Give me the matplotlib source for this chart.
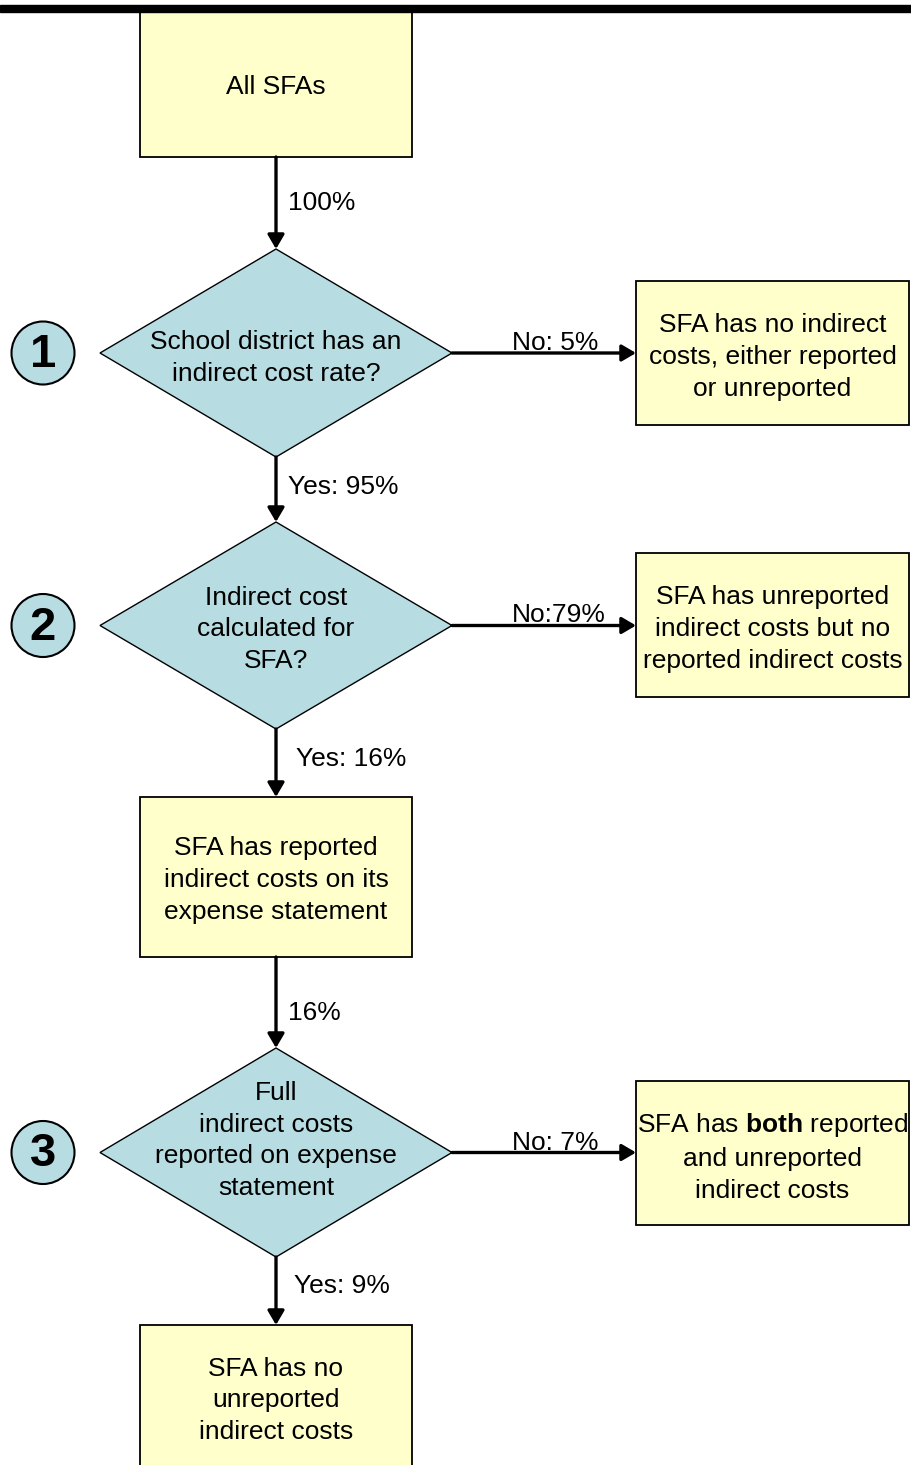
import matplotlib.pyplot as plt
from matplotlib.patches import Rectangle, Polygon, Circle

plt.rcParams['font.family'] = ['Liberation Sans', 'DejaVu Sans']
plt.rcParams['mathtext.fontset'] = 'custom'
plt.rcParams['mathtext.rm'] = 'Liberation Sans'
plt.rcParams['mathtext.bf'] = 'Liberation Sans:bold'

# flow content
main_boxes = ["All SFAs",
              "SFA has reported\nindirect costs on its\nexpense statement",
              "SFA has no\nunreported\nindirect costs"]
questions = ["School district has an\nindirect cost rate?",
             "Indirect cost\ncalculated for\nSFA?",
             "Full\nindirect costs\nreported on expense\nstatement"]
step_numbers = ["1", "2", "3"]
no_outcomes = ["SFA has no indirect\ncosts, either reported\nor unreported",
               "SFA has unreported\nindirect costs but no\nreported indirect costs",
               "SFA has $\\mathbf{both}$ reported\nand unreported\nindirect costs"]
no_labels = ["No: 5%", "No:79%", "No: 7%"]
down_labels = ["100%", "Yes: 95%", "Yes: 16%", "16%", "Yes: 9%"]

YELLOW = '#ffffcc'
BLUE = '#b7dde3'
FS = 19
LS = 1.4
TY = 3  # small downward nudge for text baselines

fig = plt.figure(figsize=(9.12, 14.65), dpi=100)
ax = fig.add_axes([0, 0, 1, 1])
ax.set_xlim(0, 912)
ax.set_ylim(1465, 0)
ax.axis('off')

# heavy rule at top
ax.add_patch(Rectangle((0, 5), 912, 7, color='black', zorder=5))

cx = 276
box_w = 272


def box(x, y, w, h, text, dy=0):
    ax.add_patch(Rectangle((x, y), w, h, facecolor=YELLOW, edgecolor='black', lw=1.3, zorder=2))
    ax.text(x + w / 2, y + h / 2 + dy + TY, text, ha='center', va='center', fontsize=FS,
            linespacing=LS, zorder=3)


def arrow(x0, y0, x1, y1):
    ax.annotate('', xy=(x1, y1), xytext=(x0, y0),
                arrowprops=dict(arrowstyle='-|>,head_length=0.85,head_width=0.5',
                                color='black', lw=2.4, shrinkA=0, shrinkB=0),
                zorder=4)


# main column boxes (top, bottom)
main_y = [(12, 157), (797, 957), (1325, 1470)]
for (y0, y1), t in zip(main_y, main_boxes):
    box(cx - box_w / 2, y0, box_w, y1 - y0, t)

# decisions
dia = [(249, 457), (522, 729), (1048, 1257)]
text_dy = [2, 1, -15]
right_box = [(281, 425), (553, 697), (1081, 1225)]
for i, (top, bot) in enumerate(dia):
    cy = (top + bot) / 2
    ax.add_patch(Polygon([(cx, top), (452, cy), (cx, bot), (100, cy)],
                         closed=True, facecolor=BLUE, edgecolor='black', lw=1.0, zorder=2))
    ax.text(cx, cy + text_dy[i] + TY, questions[i], ha='center', va='center', fontsize=FS,
            linespacing=LS, zorder=3)
    ax.add_patch(Circle((43, cy), 31.5, facecolor=BLUE, edgecolor='black', lw=1.5, zorder=2))
    ax.text(43, cy + 2, step_numbers[i], ha='center', va='center', fontsize=34,
            fontweight='bold', zorder=3)
    arrow(452, cy, 636, cy)
    ax.text(512, cy - 13 + TY, no_labels[i], ha='left', va='center', fontsize=FS, zorder=3)
    ry0, ry1 = right_box[i]
    box(636, ry0, 273, ry1 - ry0, no_outcomes[i], dy=1)

# vertical connectors
down = [(157, 249), (457, 522), (729, 797), (957, 1048), (1257, 1325)]
label_x = [288, 288, 296, 288, 294]
label_y = [200, 484, 756, 1010, 1283]
for (y0, y1), t, lx, ly in zip(down, down_labels, label_x, label_y):
    arrow(cx, y0, cx, y1)
    ax.text(lx, ly + TY, t, ha='left', va='center', fontsize=FS, zorder=3)

fig.savefig('out.png', dpi=100)
